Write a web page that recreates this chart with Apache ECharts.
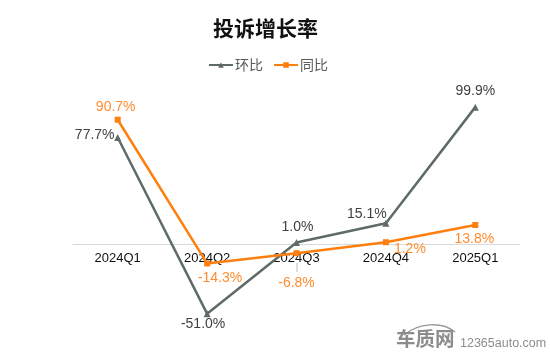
<!DOCTYPE html>
<html>
<head lang="en">
    <meta charset="UTF-8">
    <title>投诉增长率</title>
    <script src="https://cdn.jsdelivr.net/npm/echarts@6/dist/echarts.min.js"></script>
    <style type="text/css">
        html, body { margin: 0; padding: 0; background: #fff; }
        #main { width: 550px; height: 352px; }
    </style>
</head>
<body>
<div id="main"></div>
<script type="text/javascript">
    var categories = ['2024Q1', '2024Q2', '2024Q3', '2024Q4', '2025Q1'];
    var huanbi = [77.7, -51.0, 1.0, 15.1, 99.9];
    var tongbi = [90.7, -14.3, -6.8, 1.2, 13.8];

    var FONT = '"Liberation Sans", Arial, sans-serif';
    var GREY = '#5f6b66', ORANGE = '#ff7f0e';

    // 每个点的标签偏移
    var huanbiOffsets = [[-23, 13], [-4, -5], [1, 0], [-19, 6], [0, 0]];
    var tongbiOffsets = [[-2, 2], [13, 30], [0, 45], [24, 22], [-1, 29]];

    function points(values, offsets, color) {
        return values.map(function (v, i) {
            return {
                value: v,
                label: {
                    show: true,
                    position: v < 0 && color === GREY ? 'bottom' : 'top',
                    offset: offsets[i],
                    formatter: v.toFixed(1) + '%',
                    color: color === GREY ? '#404040' : '#ff8c2e',
                    fontSize: 14,
                    fontFamily: FONT
                }
            };
        });
    }

    var myChart = echarts.init(document.getElementById('main'));
    var option = {
        animation: false,
        backgroundColor: '#fff',
        title: {
            text: '投诉增长率',
            left: 208,
            top: 13,
            textStyle: { fontSize: 21, fontWeight: 'bold', color: '#111', fontFamily: '"Noto Sans CJK SC"' }
        },
        legend: {
            top: 58,
            left: 208,
            padding: 0,
            itemWidth: 24,
            itemHeight: 7,
            itemGap: 10,
            textStyle: { fontSize: 14, color: '#595959', fontFamily: '"Noto Sans CJK SC"', padding: [0, 0, 0, -3] },
            data: ['环比', '同比']
        },
        grid: { left: 73, right: 30, top: 93.3, bottom: 26 },
        xAxis: {
            type: 'category',
            data: categories,
            offset: -82.2,
            axisLine: { onZero: false, lineStyle: { color: '#d9d9d9', width: 1 } },
            axisTick: { show: false },
            axisLabel: { color: '#111', fontSize: 13, fontFamily: FONT, margin: 8 }
        },
        yAxis: {
            type: 'value',
            min: -60,
            max: 110,
            show: false,
            splitLine: { show: false }
        },
        series: [
            {
                name: '环比',
                type: 'line',
                data: points(huanbi, huanbiOffsets, GREY),
                symbol: 'triangle',
                symbolSize: 7,
                itemStyle: { color: GREY },
                lineStyle: { color: GREY, width: 2.5 },
                z: 2
            },
            {
                name: '同比',
                type: 'line',
                data: points(tongbi, tongbiOffsets, ORANGE),
                symbol: 'rect',
                symbolSize: 6,
                itemStyle: { color: ORANGE },
                lineStyle: { color: ORANGE, width: 2.5 },
                z: 3
            }
        ],
        graphic: [
            // -6.8% 标签的引导线
            {
                type: 'line',
                shape: { x1: 297, y1: 263, x2: 297, y2: 272 },
                style: { stroke: '#bfbfbf', lineWidth: 1 }
            },
            // 水印
            {
                type: 'bezierCurve',
                shape: { x1: 404, y1: 335, cpx1: 418, cpy1: 323, cpx2: 442, cpy2: 321, x2: 455, y2: 332 },
                style: { stroke: '#9a9a9a', lineWidth: 1.5, fill: null }
            },
            {
                type: 'text',
                left: 396,
                top: 329,
                style: { text: '车质网', fontSize: 19.5, fontWeight: 'bold', fill: '#8c8c8c', fontFamily: '"Noto Sans CJK SC"' }
            },
            {
                type: 'text',
                left: 460,
                top: 337,
                style: { text: '12365auto.com', fontSize: 12.5, fill: '#8c8c8c', fontFamily: FONT }
            }
        ]
    };
    myChart.setOption(option);
</script>
</body>
</html>
